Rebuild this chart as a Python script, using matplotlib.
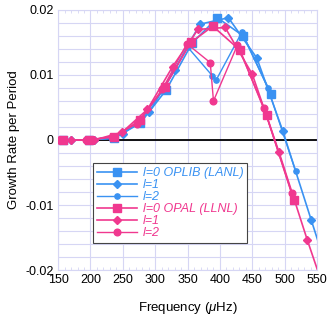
import numpy as np
import matplotlib
matplotlib.use("Agg")
from matplotlib import pyplot as plt
from matplotlib.ticker import MultipleLocator, FixedLocator

plt.rcParams["font.family"] = ["Liberation Sans", "DejaVu Sans"]
plt.rcParams["mathtext.fontset"] = "custom"
plt.rcParams["mathtext.it"] = "Liberation Sans:italic"
plt.rcParams["mathtext.rm"] = "Liberation Sans"

# growth rate per period vs frequency (uHz)
oplib_l0_f = [157, 198, 237, 277, 317, 357, 396, 436, 479]
oplib_l0_g = [0, 0, 0.0003, 0.0026, 0.0077, 0.0149, 0.0188, 0.016, 0.0071]
oplib_l1_f = [170, 205, 250, 291, 330, 369, 413, 457, 497, 541, 585]
oplib_l1_g = [0, 0, 0.0009, 0.0043, 0.0108, 0.0178, 0.0188, 0.0126, 0.0014, -0.0123, -0.026]
oplib_l2_f = [152, 193, 233, 272, 311, 350, 388, 394, 434, 474, 517]
oplib_l2_g = [0, 0, 0.0002, 0.0024, 0.0075, 0.0143, 0.0099, 0.0092, 0.0166, 0.008, -0.0048]

opal_l0_f = [157, 198, 237, 276, 315, 355, 389, 431, 472, 514]
opal_l0_g = [0, 0, 0.0005, 0.003, 0.0082, 0.015, 0.0175, 0.0138, 0.0038, -0.0092]
opal_l1_f = [170, 206, 249, 288, 327, 366, 408, 450, 491, 535, 578]
opal_l1_g = [0, 0, 0.0012, 0.0047, 0.0113, 0.017, 0.0173, 0.0101, -0.0018, -0.0154, -0.028]
opal_l2_f = [150, 193, 233, 272, 311, 349, 385, 390, 427, 468, 511]
opal_l2_g = [0, 0, 0.0005, 0.0025, 0.0078, 0.0148, 0.0119, 0.006, 0.0146, 0.0049, -0.0082]

x_ticks = [150, 200, 250, 300, 350, 400, 450, 500, 550]
y_ticks = [-0.02, -0.01, 0, 0.01, 0.02]
y_tick_labels = ["-0.02", "-0.01", "0", "0.01", "0.02"]

blue = "#3a92f2"
pink = "#f0388f"
grid_c = "#d6d6f4"

fig = plt.figure(figsize=(3.32, 3.2), dpi=100)
ax = fig.add_axes([0.175, 0.156, 0.78, 0.813])

ax.axhline(0, color="black", lw=1.3, zorder=2)

ax.plot(oplib_l0_f, oplib_l0_g, color=blue, marker="s", ms=5.5, lw=1.2, label="l=0 OPLIB (LANL)", zorder=3)
ax.plot(oplib_l1_f, oplib_l1_g, color=blue, marker="D", ms=4.2, lw=1.2, label="l=1", zorder=3)
ax.plot(oplib_l2_f, oplib_l2_g, color=blue, marker="o", ms=3.8, lw=1.0, label="l=2", zorder=3)
ax.plot(opal_l0_f, opal_l0_g, color=pink, marker="s", ms=5.5, lw=1.2, label="l=0 OPAL (LLNL)", zorder=3)
ax.plot(opal_l1_f, opal_l1_g, color=pink, marker="D", ms=4.2, lw=1.2, label="l=1", zorder=3)
ax.plot(opal_l2_f, opal_l2_g, color=pink, marker="o", ms=4.8, lw=1.0, label="l=2", zorder=3)

ax.set_xlim(150, 550)
ax.set_ylim(-0.02, 0.02)
ax.xaxis.set_major_locator(FixedLocator(x_ticks))
ax.yaxis.set_major_locator(FixedLocator(y_ticks))
ax.set_yticklabels(y_tick_labels)
ax.xaxis.set_minor_locator(MultipleLocator(10))
ax.yaxis.set_minor_locator(MultipleLocator(0.002))
ax.grid(True, which="major", color=grid_c, lw=0.8)
ax.grid(True, which="minor", axis="y", color=grid_c, lw=0.8)
ax.tick_params(which="both", direction="in", color=grid_c, labelsize=9, pad=3,
               top=True, right=True)
ax.tick_params(which="major", length=0)
ax.tick_params(which="minor", length=2)
for s in ax.spines.values():
    s.set_color(grid_c)

ax.set_xlabel(r"Frequency ($\mu$Hz)", fontsize=9.5, labelpad=10)
ax.set_ylabel("Growth Rate per Period", fontsize=9.5)

leg = ax.legend(loc="upper left", bbox_to_anchor=(0.135, 0.41), borderaxespad=0,
                fontsize=9, handlelength=3.2, handletextpad=0.5, labelspacing=0.0,
                borderpad=0.3, fancybox=False, framealpha=1, edgecolor="#444444")
leg.get_frame().set_linewidth(0.8)
for txt, c in zip(leg.get_texts(), [blue, blue, blue, pink, pink, pink]):
    txt.set_color(c)
    txt.set_fontstyle("italic")

fig.savefig("out.png", dpi=100)
